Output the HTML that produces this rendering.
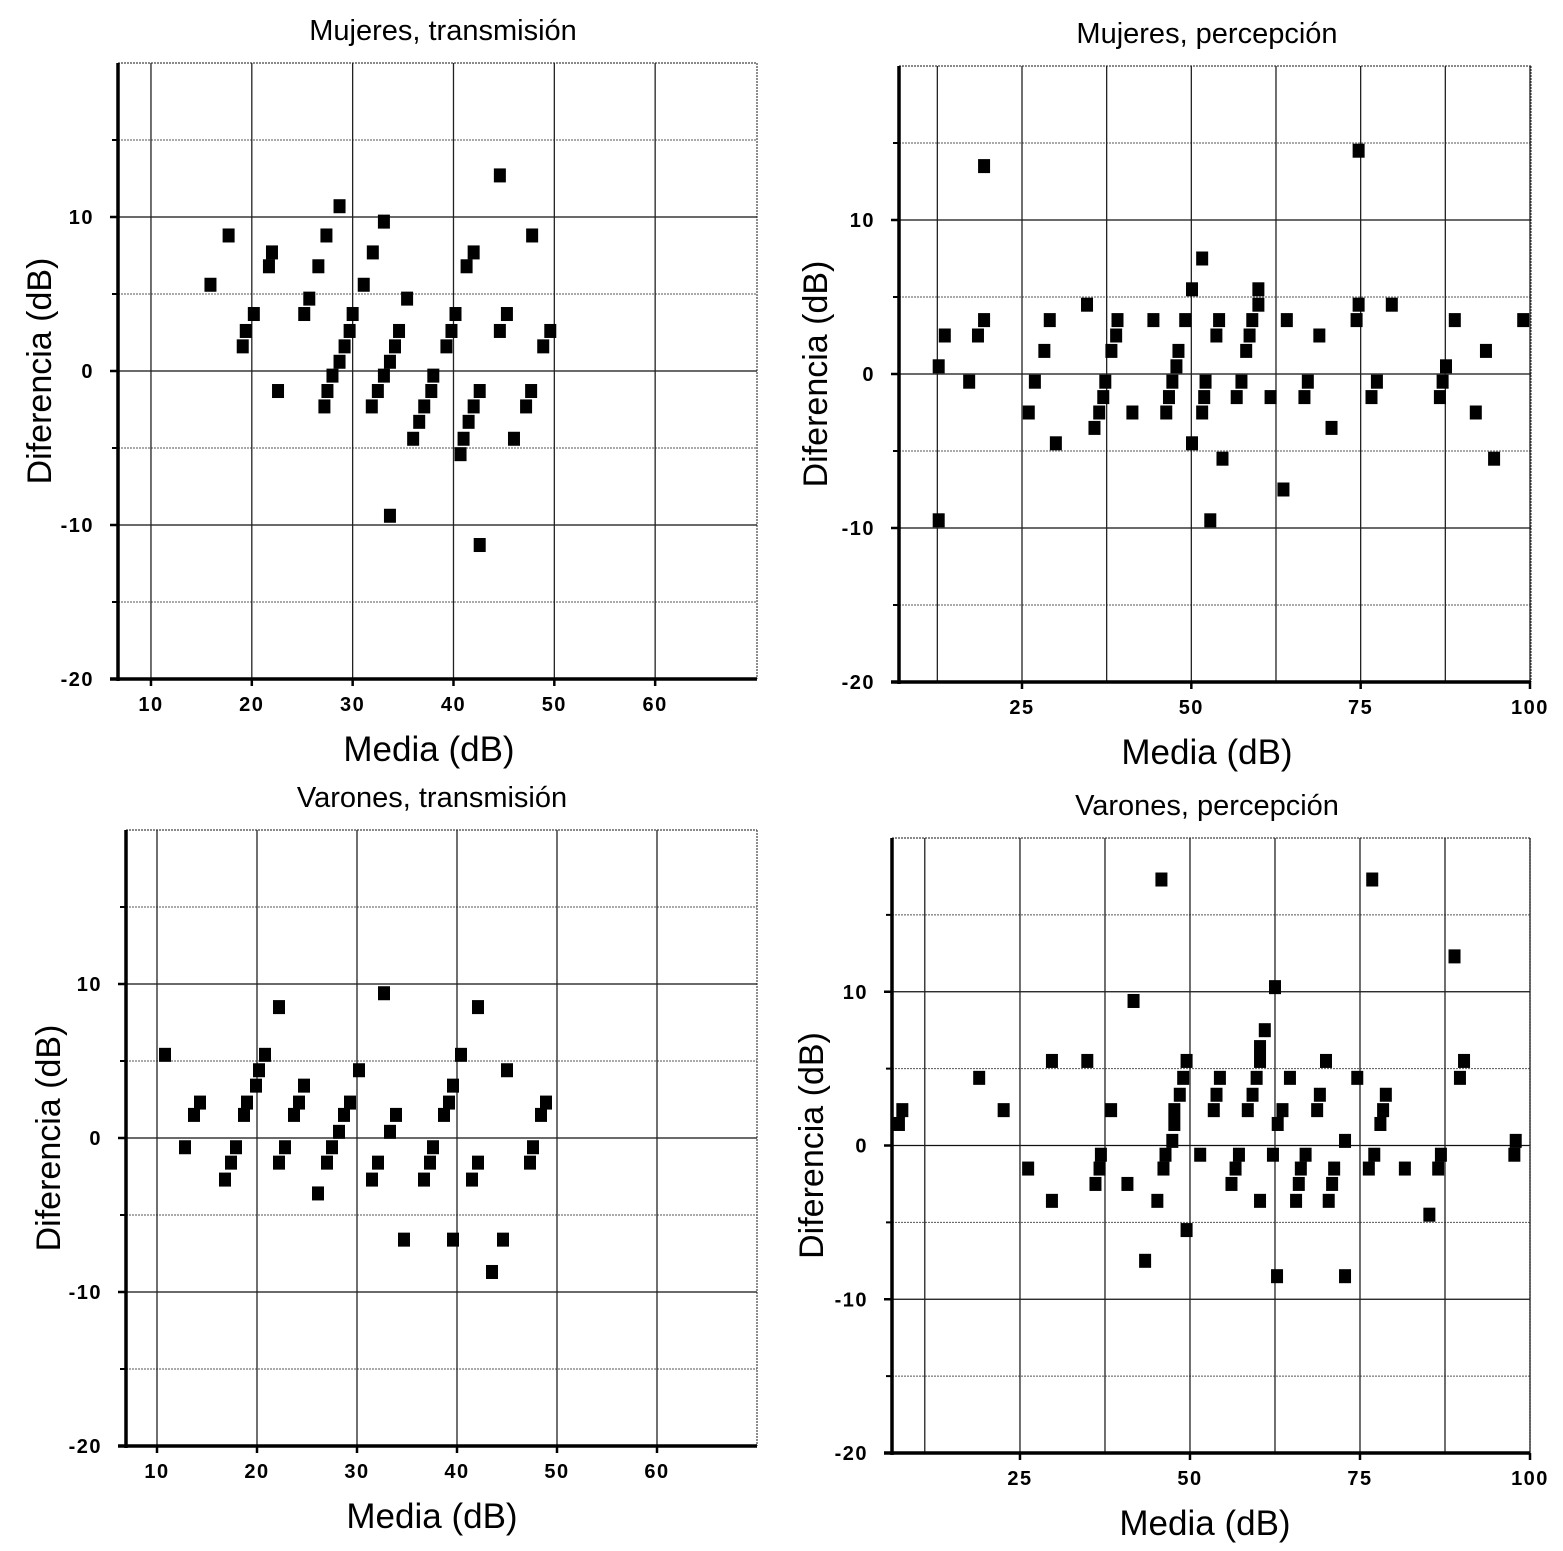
<!DOCTYPE html>
<html><head><meta charset="utf-8"><style>
html,body{margin:0;padding:0;background:#fff}
svg{display:block}
text{font-family:"Liberation Sans",Arial,sans-serif;fill:#000}
.tick{font-weight:bold;font-size:20px;letter-spacing:1.5px}
.title{font-size:29px}
.axt{font-size:35px}
.ayt{font-size:34px}
</style></head><body>
<svg id="chart" width="1563" height="1551" viewBox="0 0 1563 1551" xmlns="http://www.w3.org/2000/svg"></svg>
<script>
// Panel 1: Mujeres, transmisión
const p1Mean=[15.9,17.7,19.1,19.4,20.2,21.7,22.0,22.6,25.2,25.7,26.6,27.4,27.2,27.5,28.0,28.7,28.7,29.2,29.7,30.0,31.1,31.9,32.0,32.5,33.1,33.1,33.7,33.7,34.2,34.6,35.4,36.0,36.6,37.1,37.8,38.0,39.3,39.8,40.2,40.7,41.0,41.3,41.5,42.0,42.0,42.6,42.6,44.6,44.6,45.3,46.0,47.2,47.7,47.8,48.9,49.6];
const p1Diff=[5.6,8.8,1.6,2.6,3.7,6.8,7.7,-1.3,3.7,4.7,6.8,8.8,-2.3,-1.3,-0.3,10.7,0.6,1.6,2.6,3.7,5.6,-2.3,7.7,-1.3,9.7,-0.3,0.6,-9.4,1.6,2.6,4.7,-4.4,-3.3,-2.3,-1.3,-0.3,1.6,2.6,3.7,-5.4,-4.4,6.8,-3.3,7.7,-2.3,-1.3,-11.3,12.7,2.6,3.7,-4.4,-2.3,-1.3,8.8,1.6,2.6];
// Panel 2: Mujeres, percepción
const p2Mean=[12.7,12.7,13.6,17.2,18.5,19.4,19.4,26.0,26.9,28.3,29.1,30.0,34.6,35.7,36.4,37.0,37.3,38.2,38.9,39.1,41.3,44.4,46.3,46.7,47.2,47.8,48.1,49.1,50.1,50.1,51.6,51.6,51.9,52.1,52.8,53.7,54.1,54.6,56.7,57.4,58.1,58.6,59.0,59.9,59.9,61.7,63.6,64.1,66.7,67.2,68.9,70.7,74.4,74.7,74.7,76.6,77.4,79.6,86.7,87.1,87.6,88.9,92.0,93.5,94.7,99.0];
const p2Diff=[0.5,-9.5,2.5,-0.5,2.5,13.5,3.5,-2.5,-0.5,1.5,3.5,-4.5,4.5,-3.5,-2.5,-1.5,-0.5,1.5,2.5,3.5,-2.5,3.5,-2.5,-1.5,-0.5,0.5,1.5,3.5,-4.5,5.5,7.5,-2.5,-1.5,-0.5,-9.5,2.5,3.5,-5.5,-1.5,-0.5,1.5,2.5,3.5,4.5,5.5,-1.5,-7.5,3.5,-1.5,-0.5,2.5,-3.5,3.5,14.5,4.5,-1.5,-0.5,4.5,-1.5,-0.5,0.5,3.5,-2.5,1.5,-5.5,3.5];
// Panel 3: Varones, transmisión
const p3Mean=[10.8,12.8,13.7,14.3,16.8,17.4,17.9,18.7,19.0,19.9,20.2,20.8,22.2,22.2,22.8,23.7,24.2,24.7,26.1,27.0,27.5,28.2,28.7,29.3,30.2,31.5,32.1,32.7,33.3,33.9,34.7,36.7,37.3,37.6,38.7,39.2,39.6,39.6,40.4,41.5,42.1,42.1,43.5,45.0,44.6,47.3,47.6,48.4,48.9];
const p3Diff=[5.4,-0.6,1.5,2.3,-2.7,-1.6,-0.6,1.5,2.3,3.4,4.4,5.4,8.5,-1.6,-0.6,1.5,2.3,3.4,-3.6,-1.6,-0.6,0.4,1.5,2.3,4.4,-2.7,-1.6,9.4,0.4,1.5,-6.6,-2.7,-1.6,-0.6,1.5,2.3,3.4,-6.6,5.4,-2.7,-1.6,8.5,-8.7,4.4,-6.6,-1.6,-0.6,1.5,2.3];
// Panel 4: Varones, percepción
const p4Mean=[7.2,7.7,19.0,22.6,26.2,29.7,29.7,34.9,36.1,36.7,36.9,38.4,40.8,41.7,43.4,45.2,45.8,46.1,46.4,47.4,47.7,47.7,48.5,49.0,49.5,49.5,51.5,53.5,53.9,54.4,56.1,56.7,57.2,58.5,59.2,59.8,60.3,60.3,60.3,61.0,62.2,62.5,62.8,62.9,63.6,64.7,65.6,66.0,66.3,67.0,68.7,69.1,70.0,70.4,70.9,71.2,72.8,72.8,74.6,76.3,76.8,77.1,78.0,78.4,78.8,81.6,85.2,86.5,86.9,88.9,89.7,90.3,97.7,97.9];
const p4Diff=[1.4,2.3,4.4,2.3,-1.5,5.5,-3.6,5.5,-2.5,-1.5,-0.6,2.3,-2.5,9.4,-7.5,-3.6,17.3,-1.5,-0.6,0.3,1.4,2.3,3.3,4.4,5.5,-5.5,-0.6,2.3,3.3,4.4,-2.5,-1.5,-0.6,2.3,3.3,4.4,5.5,6.4,-3.6,7.5,-0.6,10.3,-8.5,1.4,2.3,4.4,-3.6,-2.5,-1.5,-0.6,2.3,3.3,5.5,-3.6,-2.5,-1.5,0.3,-8.5,4.4,-1.5,17.3,-0.6,1.4,2.3,3.3,-1.5,-4.5,-1.5,-0.6,12.3,4.4,5.5,-0.6,0.3];
const yTickVals=[10,0,-10,-20];
const yMinorVals=[15,5,-5,-15];
const transXTicks=[10,20,30,40,50,60];
const percXTicks=[25,50,75,100];
const p2Grid=[12.5,25,37.5,50,62.5,75,87.5,100];
const p4Grid=[11,25,37.5,50,62.5,75,87.5,100];

const NS="http://www.w3.org/2000/svg";
const svg=document.getElementById('chart');
function mk(tag,attrs,parent){const e=document.createElementNS(NS,tag);for(const k in attrs)e.setAttribute(k,attrs[k]);(parent||svg).appendChild(e);return e;}

function panel(o){
  const g=mk('g',{});
  
  
  const sx=v=>o.L+(v-o.xmin)/(o.xmax-o.xmin)*(o.R-o.L);
  const sy=v=>o.B-(v+20)/40*(o.B-o.T);
  mk('line',{x1:o.L,y1:o.T,x2:o.R,y2:o.T,stroke:'#444','stroke-width':1.2,'stroke-dasharray':'2,1'},g);
  mk('line',{x1:o.R,y1:o.T,x2:o.R,y2:o.B,stroke:'#444','stroke-width':1.2,'stroke-dasharray':'2,1'},g);
  yTickVals.forEach(v=>{if(v>-20){const l=mk('line',{x1:o.L,y1:sy(v),x2:o.R,y2:sy(v),stroke:'#111','stroke-width':1.3},g);
    }});
  yMinorVals.forEach(v=>{const l=mk('line',{x1:o.L,y1:sy(v),x2:o.R,y2:sy(v),stroke:'#555','stroke-width':1,'stroke-dasharray':'2,1'},g);
    
    mk('line',{x1:o.L-6,y1:sy(v),x2:o.L,y2:sy(v),stroke:'#000','stroke-width':2},g);});
  o.grid.forEach(v=>{const l=mk('line',{x1:sx(v),y1:o.T,x2:sx(v),y2:o.B,stroke:'#222','stroke-width':1.3},g);
    });
  const ya=mk('line',{x1:o.L,y1:o.T,x2:o.L,y2:o.B+2,stroke:'#000','stroke-width':3.5},g);
  
  const xa=mk('line',{x1:o.L-8,y1:o.B,x2:o.R,y2:o.B,stroke:'#000','stroke-width':3.5},g);
  
  yTickVals.forEach(v=>{mk('line',{x1:o.L-8,y1:sy(v),x2:o.L,y2:sy(v),stroke:'#000','stroke-width':2.5},g);
    const t=mk('text',{x:o.L-24,y:sy(v)+7,'text-anchor':'end',class:'tick'},g);t.textContent=String(v);
    });
  o.xticks.forEach(v=>{mk('line',{x1:sx(v),y1:o.B,x2:sx(v),y2:o.B+7,stroke:'#000','stroke-width':2.5},g);
    const t=mk('text',{x:sx(v),y:o.B+32,'text-anchor':'middle',class:'tick'},g);t.textContent=String(v);
    });
  const tt=mk('text',{x:o.tx,y:o.T-23,'text-anchor':'middle',class:'title'},g);tt.textContent=o.title;
  
  const xt=mk('text',{x:o.xtx,y:o.B+82,'text-anchor':'middle',class:'axt'},g);xt.textContent='Media (dB)';
  
  const cy=(o.T+o.B)/2;
  const yt=mk('text',{x:o.ytx,y:cy,'text-anchor':'middle',class:'ayt',transform:`rotate(-90 ${o.ytx} ${cy})`},g);yt.textContent='Diferencia (dB)';
  
  o.xs.forEach((x,i)=>{const r=mk('rect',{x:sx(x)-6,y:sy(o.ys[i])-7,width:12,height:14,fill:'#000'},g);
    });
}
panel({name:'panel-mujeres-transmision',title:'Mujeres, transmisión',L:118,R:757,T:63,B:679,xmin:6.73,xmax:70.1,grid:transXTicks,xticks:transXTicks,xs:p1Mean,ys:p1Diff,tx:443,xtx:429,ytx:51});
panel({name:'panel-mujeres-percepcion',title:'Mujeres, percepción',L:899,R:1531,T:66,B:682,xmin:6.84,xmax:100.15,grid:p2Grid,xticks:percXTicks,xs:p2Mean,ys:p2Diff,tx:1207,xtx:1207,ytx:827});
panel({name:'panel-varones-transmision',title:'Varones, transmisión',L:126,R:757,T:830,B:1446,xmin:6.9,xmax:70,grid:transXTicks,xticks:transXTicks,xs:p3Mean,ys:p3Diff,tx:432,xtx:432,ytx:60});
panel({name:'panel-varones-percepcion',title:'Varones, percepción',L:892,R:1530,T:838,B:1453,xmin:6.18,xmax:100,grid:p4Grid,xticks:percXTicks,xs:p4Mean,ys:p4Diff,tx:1207,xtx:1205,ytx:823});
</script>
</body></html>
